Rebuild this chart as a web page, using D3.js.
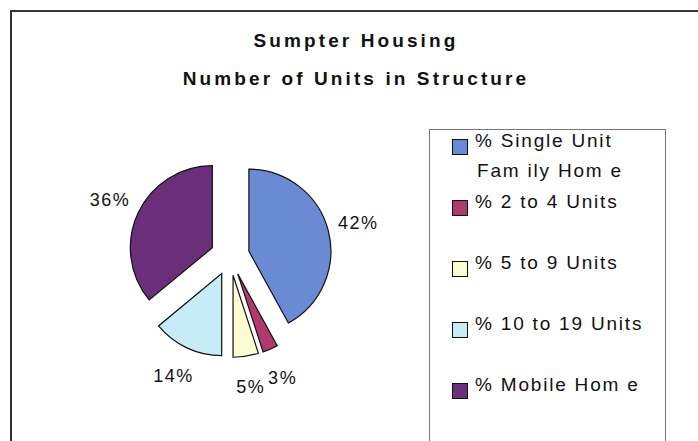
<!DOCTYPE html>
<html>
<head>
<meta charset="utf-8">
<script src="https://cdn.jsdelivr.net/npm/d3@7"></script>
<style>
  body { margin: 0; background: #fff; }
  text { font-family: "Liberation Sans", Arial, sans-serif; fill: #111; }
</style>
</head>
<body>
<div id="chart"></div>
<script>
// datos
var categories = ["% Single Unit Family Home", "% 2 to 4 Units", "% 5 to 9 Units", "% 10 to 19 Units", "% Mobile Home"];
var legendLines = [["% Single Unit", "Fam ily Hom e"], ["% 2 to 4 Units"], ["% 5 to 9 Units"], ["% 10 to 19 Units"], ["% Mobile Hom e"]];
var values = [42, 3, 5, 14, 36];
var colors = ["#6a8bd4", "#b03a6c", "#fdfdd4", "#c6ecf8", "#6a2f78"];
var titleLines = ["Sumpter Housing", "Number of Units in Structure"];

var width = 698;
var height = 441;

var svg = d3.select("#chart")
    .append("svg")
    .attr("width", width)
    .attr("height", height);

// marco exterior
svg.append("rect")
    .attr("x", 11)
    .attr("y", 11)
    .attr("width", 730)
    .attr("height", 460)
    .attr("fill", "none")
    .attr("stroke", "#333")
    .attr("stroke-width", 2);

// titulo
svg.selectAll("text.title")
    .data(titleLines)
    .enter().append("text")
    .attr("class", "title")
    .attr("x", 356)
    .attr("y", function(d, i) { return 47 + i * 38; })
    .attr("text-anchor", "middle")
    .style("font-size", "19px")
    .style("font-weight", "bold")
    .style("letter-spacing", "3.1px")
    .text(function(d) { return d; });

// pie
var radius = 82;
var explode = 19.5;
var cx = 230, cy = 256;

var pie = d3.pie().sort(null).value(function(d) { return d; });
var arcs = pie(values);

var arc = d3.arc().innerRadius(0).outerRadius(radius);
var labelArc = d3.arc().innerRadius(113).outerRadius(113);

function offset(d) {
    var a = (d.startAngle + d.endAngle) / 2;
    return [Math.sin(a) * explode, -Math.cos(a) * explode];
}

var g = svg.append("g").attr("transform", "translate(" + cx + "," + cy + ")");

var slices = g.selectAll("g.slice")
    .data(arcs)
    .enter().append("g")
    .attr("class", "slice")
    .attr("transform", function(d) { return "translate(" + offset(d) + ")"; });

slices.append("path")
    .attr("d", arc)
    .attr("fill", function(d, i) { return colors[i]; })
    .attr("stroke", "#111")
    .attr("stroke-width", 1.2);

slices.append("text")
    .attr("transform", function(d) { return "translate(" + labelArc.centroid(d) + ")"; })
    .attr("text-anchor", "middle")
    .attr("dy", "0.35em")
    .style("font-size", "18px")
    .style("letter-spacing", "1.5px")
    .text(function(d) { return d.value + "%"; });

// leyenda
svg.append("rect")
    .attr("x", 429.5)
    .attr("y", 129.5)
    .attr("width", 236)
    .attr("height", 340)
    .attr("fill", "none")
    .attr("stroke", "#777")
    .attr("stroke-width", 1);

var ly = d3.scalePoint()
    .domain(categories)
    .range([147, 391]);

var items = svg.selectAll("g.legend")
    .data(categories)
    .enter().append("g")
    .attr("class", "legend")
    .attr("transform", function(d) { return "translate(452," + ly(d) + ")"; });

items.append("rect")
    .attr("x", 0.5)
    .attr("y", -7.5)
    .attr("width", 15)
    .attr("height", 15)
    .attr("fill", function(d, i) { return colors[i]; })
    .attr("stroke", "#111")
    .attr("stroke-width", 1);

items.append("text")
    .attr("x", 23)
    .attr("dy", "0.35em")
    .style("font-size", "19px")
    .style("letter-spacing", "1.8px")
    .selectAll("tspan")
    .data(function(d, i) { return legendLines[i]; })
    .enter().append("tspan")
    .attr("x", function(d, j) { return j === 0 ? 23 : 25; })
    .attr("dy", function(d, j) { return j === 0 ? 0 : 30; })
    .text(function(d) { return d; });
</script>
</body>
</html>
